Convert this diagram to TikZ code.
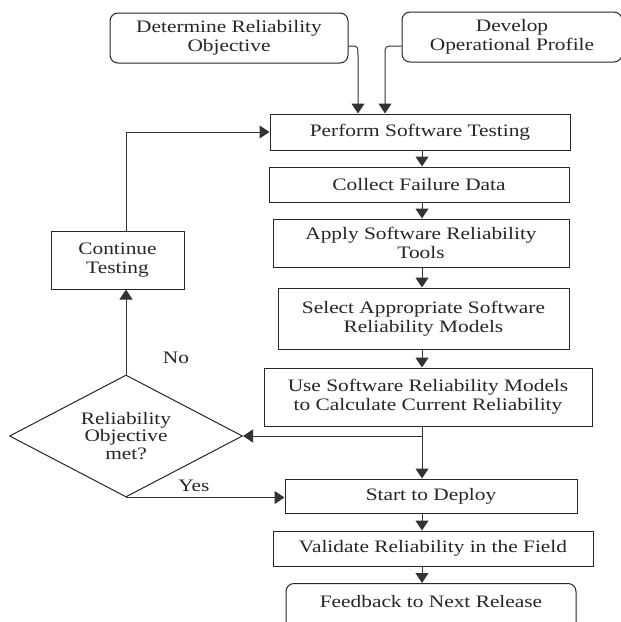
\documentclass[tikz,border=0pt]{standalone}
\usepackage{fontspec}
\setmainfont{Liberation Serif}[FakeStretch=1.22]
\usetikzlibrary{shapes.geometric,arrows.meta}
\begin{document}
\begin{tikzpicture}[x=1pt,y=-1pt,
  every node/.style={text=black!85, font=\fontsize{17.5}{19}\selectfont},
  box/.style={draw=black!85, line width=1pt, align=center, inner sep=0pt},
  rbox/.style={box, rounded corners=8pt},
  lbl/.style={inner sep=0pt},
  arr/.style={draw=black!80, line width=1pt, -{Triangle[width=13pt,length=10pt]}}]
\useasboundingbox (0,0) rectangle (621,622);
\fill[white] (0,0) rectangle (621,622);
% nodes
\node[rbox, minimum width=238pt, minimum height=50pt] (det) at (229,38) {Determine Reliability\\Objective};
\node[rbox, minimum width=220pt, minimum height=50pt] (dev) at (512,37) {Develop\\Operational Profile};
\node[box, minimum width=300pt, minimum height=36pt] (perf) at (420,132) {Perform Software Testing};
\node[box, minimum width=300pt, minimum height=35pt] (coll) at (419,184.5) {Collect Failure Data};
\node[box, minimum width=296pt, minimum height=48pt] (apply) at (421,243) {Apply Software Reliability\\Tools};
\node[box, minimum width=291pt, minimum height=61pt] (sel) at (423.5,318.5) {Select Appropriate Software\\Reliability Models};
\node[box, minimum width=328pt, minimum height=58pt] (use) at (428,397) {Use Software Reliability Models\\to Calculate Current Reliability};
\node[box, minimum width=292pt, minimum height=34pt] (start) at (431,496) {Start to Deploy};
\node[box, minimum width=320pt, minimum height=35pt] (val) at (433,548.5) {Validate Reliability in the Field};
\node[rbox, minimum width=290pt, minimum height=50pt, anchor=north] (feed) at (431,583) {};
\node[lbl] (feedt) at (431,602) {Feedback to Next Release};
\node[box, minimum width=133pt, minimum height=58pt] (cont) at (117.5,260) {Continue\\Testing};
\node[draw=black!85, line width=1pt, diamond, minimum width=233pt, minimum height=122pt, inner sep=0pt] (dia) at (126,436) {};
\node[lbl, align=center, font=\fontsize{17.5}{17.5}\selectfont] (diat) at (126,436) {Reliability\\Objective\\met?};
\node[lbl] (no) at (176,358) {No};
\node[lbl] (yes) at (194,486) {Yes};
% connectors
\coordinate (col) at (422,0);
\draw[arr] (perf.south -| col) -- (coll.north -| col);
\draw[arr] (coll.south -| col) -- (apply.north -| col);
\draw[arr] (apply.south -| col) -- (sel.north -| col);
\draw[arr] (sel.south -| col) -- (use.north -| col);
\draw[arr] (use.south -| col) -- (start.north -| col);
\draw[arr] (col |- dia.east) -- (dia.east);
\draw[arr] (start.south -| col) -- (val.north -| col);
\draw[arr] (val.south -| col) -- (feed.north -| col);
\draw[arr] (dia.north) -- (dia.north |- cont.south);
\draw[arr] (dia.north |- cont.north) |- (perf.west);
\draw[arr] (dia.south) -- (start.west |- dia.south);
\draw[arr] ([yshift=-8pt]det.east) -- (350,46) .. controls (358,46) .. (358,55) -- (358,0 |- perf.north);
\draw[arr] ([yshift=-9pt]dev.west) -- (395,46) .. controls (385,46) .. (385,55) -- (385,0 |- perf.north);
\end{tikzpicture}
\end{document}
